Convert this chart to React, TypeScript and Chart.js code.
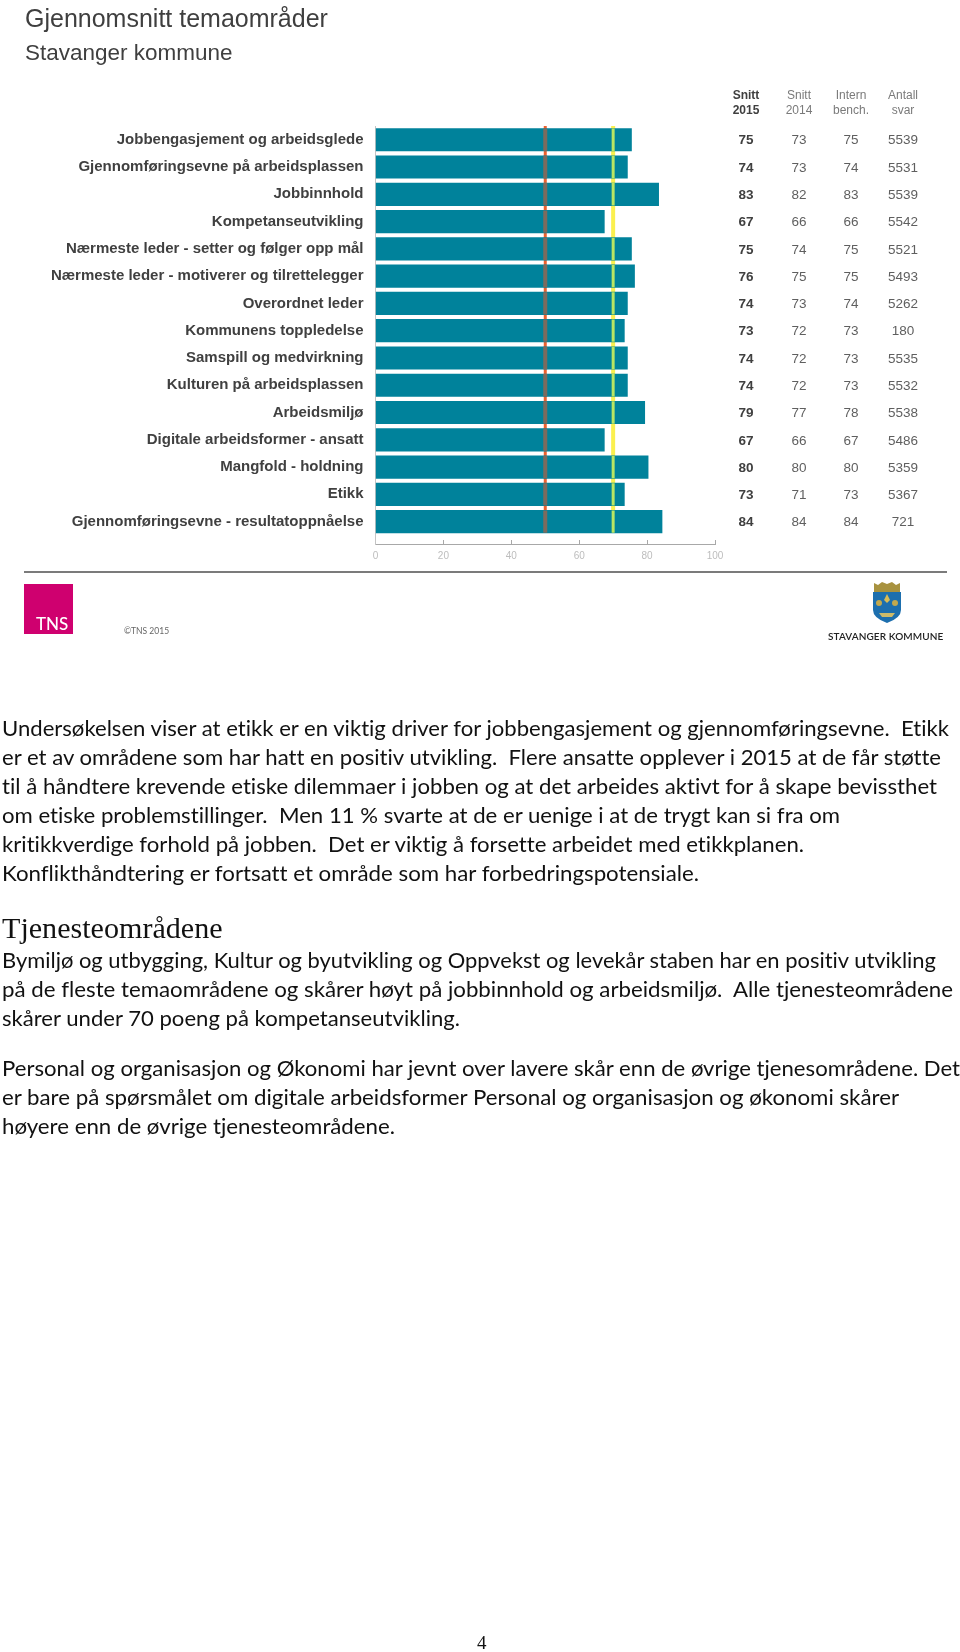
import React, { useEffect, useLayoutEffect, useRef } from "react";
import { Chart, registerables } from "chart.js";

Chart.register(...registerables);

const categories = [
  "Jobbengasjement og arbeidsglede",
  "Gjennomføringsevne på arbeidsplassen",
  "Jobbinnhold",
  "Kompetanseutvikling",
  "Nærmeste leder - setter og følger opp mål",
  "Nærmeste leder - motiverer og tilrettelegger",
  "Overordnet leder",
  "Kommunens toppledelse",
  "Samspill og medvirkning",
  "Kulturen på arbeidsplassen",
  "Arbeidsmiljø",
  "Digitale arbeidsformer - ansatt",
  "Mangfold - holdning",
  "Etikk",
  "Gjennomføringsevne - resultatoppnåelse",
];
const barValues = [75.4, 74.2, 83.4, 67.4, 75.4, 76.3, 74.2, 73.3, 74.2, 74.2, 79.3, 67.4, 80.3, 73.3, 84.4];
const snitt2015 = ["75", "74", "83", "67", "75", "76", "74", "73", "74", "74", "79", "67", "80", "73", "84"];
const snitt2014 = ["73", "73", "82", "66", "74", "75", "73", "72", "72", "72", "77", "66", "80", "71", "84"];
const internBench = ["75", "74", "83", "66", "75", "75", "74", "73", "73", "73", "78", "67", "80", "73", "84"];
const antallSvar = ["5539", "5531", "5539", "5542", "5521", "5493", "5262", "180", "5535", "5532", "5538", "5486", "5359", "5367", "721"];
const columnHeads = [["Snitt", "2015"], ["Snitt", "2014"], ["Intern", "bench."], ["Antall", "svar"]];
const redLine = 50;
const greenLine = 70;
const xTicks = [0, 20, 40, 60, 80, 100];

const paragraphs: { text: string; y: number; right: number }[] = [
  { text: "Undersøkelsen viser at etikk er en viktig driver for jobbengasjement og gjennomføringsevne.  Etikk", y: 728, right: 949 },
  { text: "er et av områdene som har hatt en positiv utvikling.  Flere ansatte opplever i 2015 at de får støtte", y: 757, right: 941 },
  { text: "til å håndtere krevende etiske dilemmaer i jobben og at det arbeides aktivt for å skape bevissthet", y: 786, right: 937 },
  { text: "om etiske problemstillinger.  Men 11 % svarte at de er uenige i at de trygt kan si fra om", y: 815, right: 840 },
  { text: "kritikkverdige forhold på jobben.  Det er viktig å forsette arbeidet med etikkplanen.", y: 844, right: 804 },
  { text: "Konflikthåndtering er fortsatt et område som har forbedringspotensiale.", y: 873, right: 699 },
  { text: "Bymiljø og utbygging, Kultur og byutvikling og Oppvekst og levekår staben har en positiv utvikling", y: 960, right: 936 },
  { text: "på de fleste temaområdene og skårer høyt på jobbinnhold og arbeidsmiljø.  Alle tjenesteområdene", y: 989, right: 953 },
  { text: "skårer under 70 poeng på kompetanseutvikling.", y: 1018, right: 460 },
  { text: "Personal og organisasjon og Økonomi har jevnt over lavere skår enn de øvrige tjenesområdene. Det", y: 1068, right: 960 },
  { text: "er bare på spørsmålet om digitale arbeidsformer Personal og organisasjon og økonomi skårer", y: 1097, right: 899 },
  { text: "høyere enn de øvrige tjenesteområdene.", y: 1126, right: 395 },
];

const SANS = '"Liberation Sans", Arial, sans-serif';
const HALF = 0.41;

const segmentsOver = (ref: number) =>
  barValues.flatMap((v, i) =>
    v > ref ? [{ x: ref, y: i - HALF }, { x: ref, y: i + HALF }, { x: NaN, y: i + 0.5 }] : []
  );

const tablePlugin = {
  id: "sideTable",
  afterDraw(chart: any) {
    const { ctx, scales } = chart;
    const xs = [746, 799, 851, 903];
    const cols = [snitt2015, snitt2014, internBench, antallSvar];
    ctx.save();
    ctx.textAlign = "center";
    ctx.textBaseline = "middle";
    cols.forEach((col, c) => {
      ctx.font = `${c === 0 ? "bold " : ""}13.5px ${SANS}`;
      ctx.fillStyle = c === 0 ? "#404040" : "#5f5f5f";
      col.forEach((t, i) => ctx.fillText(t, xs[c], scales.y.getPixelForValue(i) + 1));
      ctx.font = `${c === 0 ? "bold " : ""}12px ${SANS}`;
      ctx.fillStyle = c === 0 ? "#404040" : "#7a7a7a";
      columnHeads[c].forEach((t, k) => ctx.fillText(t, xs[c], 96 + k * 15));
    });
    ctx.restore();
  },
};

export default function App() {
  const canvasRef = useRef<HTMLCanvasElement>(null);
  const rootRef = useRef<HTMLDivElement>(null);

  useEffect(() => {
    const chart = new Chart(canvasRef.current as HTMLCanvasElement, {
      type: "bar",
      plugins: [tablePlugin],
      data: {
        labels: categories,
        datasets: [
          {
            type: "line",
            label: "50 under",
            data: [{ x: redLine, y: -0.5 }, { x: redLine, y: 14.41 }],
            borderColor: "#ee5f2c",
            borderWidth: 3,
            pointRadius: 0,
            order: 3,
          },
          {
            type: "line",
            label: "70 under",
            data: [{ x: greenLine, y: -0.5 }, { x: greenLine, y: 14.41 }],
            borderColor: "#fbf04e",
            borderWidth: 4,
            pointRadius: 0,
            order: 3,
          },
          {
            type: "bar",
            label: "Snitt 2015",
            data: barValues.map((v, i) => ({ x: v, y: i })),
            backgroundColor: "#00829b",
            barThickness: 22.5,
            order: 2,
          },
          {
            type: "line",
            label: "50 over",
            data: segmentsOver(redLine),
            borderColor: "#7c6b5e",
            borderWidth: 4,
            pointRadius: 0,
            spanGaps: false,
            order: 1,
          },
          {
            type: "line",
            label: "70 over",
            data: segmentsOver(greenLine),
            borderColor: "#b9e663",
            borderWidth: 3,
            pointRadius: 0,
            spanGaps: false,
            order: 1,
          },
        ] as any,
      },
      options: {
        indexAxis: "y",
        animation: false,
        responsive: false,
        devicePixelRatio: 1,
        layout: { padding: { left: 25, right: 245, top: 0, bottom: 1078 } },
        plugins: {
          legend: { display: false },
          tooltip: { enabled: false },
          title: {
            display: true,
            text: "Gjennomsnitt temaområder",
            align: "start",
            color: "#3f3f3f",
            font: { family: SANS, size: 25, weight: "normal", lineHeight: 1.2 },
            padding: { top: 5, bottom: 5.5 },
          },
          subtitle: {
            display: true,
            text: "Stavanger kommune",
            align: "start",
            color: "#3f3f3f",
            font: { family: SANS, size: 22.5, weight: "normal", lineHeight: 1.2 },
            padding: { top: 0, bottom: 58.6 },
          },
        },
        scales: {
          x: {
            type: "linear",
            min: 0,
            max: 100,
            afterBuildTicks: (s: any) => { s.ticks = xTicks.map((value) => ({ value })); },
            afterFit: (s: any) => { s.height = 30; },
            border: { color: "#a8a8a8", width: 1 },
            grid: { drawOnChartArea: false, drawTicks: true, tickLength: -4, color: "#a8a8a8" },
            ticks: { color: "#bdbdbd", font: { family: SANS, size: 10 }, padding: 10, maxRotation: 0 },
          },
          y: {
            type: "linear",
            reverse: true,
            offset: false,
            min: -0.5,
            max: 14.82,
            afterBuildTicks: (s: any) => { s.ticks = categories.map((_, value) => ({ value })); },
            afterFit: (s: any) => { s.width = 350.5; },
            border: { color: "#c4c4c4", width: 1 },
            grid: { drawOnChartArea: false, drawTicks: false },
            ticks: {
              autoSkip: false,
              color: "#404040",
              font: { family: SANS, size: 15, weight: "bold" },
              padding: 12,
              callback: (v: any) => categories[v as number] ?? "",
            },
          },
        },
      } as any,
    });
    return () => chart.destroy();
  }, []);

  // each text line is fitted to the width it has in the reference
  useLayoutEffect(() => {
    const root = rootRef.current as HTMLDivElement;
    root.querySelectorAll<HTMLElement>("[data-right]").forEach((el) => {
      const w = el.getBoundingClientRect().width;
      el.style.transform = `scaleX(${(Number(el.dataset.right) - 2) / w})`;
    });
  }, []);

  const abs: React.CSSProperties = { position: "absolute", whiteSpace: "pre", lineHeight: 1 };

  return (
    <div ref={rootRef} style={{ position: "absolute", left: 0, top: 0, width: 960, height: 1652, background: "#fff", overflow: "hidden" }}>
      <canvas ref={canvasRef} width={960} height={1652} style={{ position: "absolute", left: 0, top: 0, display: "block" }} />

      <div style={{ position: "absolute", left: 24, top: 571, width: 923, height: 2, background: "#7b7b7b" }} />
      <div style={{ position: "absolute", left: 24, top: 584, width: 49, height: 50, background: "#cf006f" }} />
      <div style={{ ...abs, left: 36, top: 613, color: "#fff", font: "500 17px Lato, sans-serif" }}>TNS</div>
      <div style={{ ...abs, left: 124, top: 626, color: "#666", font: "8.5px Lato, sans-serif" }}>©TNS 2015</div>

      <svg style={{ position: "absolute", left: 870, top: 580 }} width="34" height="44" viewBox="0 0 34 44">
        <path d="M4 12 L4 3 L8 5 L12 2 L17 4 L22 2 L26 5 L30 3 L30 12 Z" fill="#a8923f" />
        <path d="M3 12 H31 V30 Q31 38 17 43 Q3 38 3 30 Z" fill="#1d6fae" />
        <path d="M17 14 L20 20 L17 23 L14 20 Z" fill="#d8bb55" />
        <circle cx="9" cy="23" r="3" fill="#c2a94e" />
        <circle cx="25" cy="23" r="3" fill="#c2a94e" />
        <path d="M9 33 H25 L22 37 H12 Z" fill="#cdbb6a" />
      </svg>
      <div style={{ ...abs, left: 828, top: 630, color: "#222", font: "600 10px Lato, sans-serif", letterSpacing: 0.1 }}>STAVANGER KOMMUNE</div>

      {paragraphs.map((p) => (
        <div
          key={p.text}
          data-right={p.right}
          style={{ ...abs, left: 2, top: p.y - 13, transformOrigin: "0 0", color: "#111", font: "21px Lato, sans-serif", lineHeight: "25px", fontVariantLigatures: "none" }}
        >
          {p.text}
        </div>
      ))}
      <div style={{ ...abs, left: 2, top: 911, color: "#111", font: '30.1px "Liberation Serif", serif' }}>Tjenesteområdene</div>
      <div style={{ ...abs, left: 477, top: 1632, color: "#111", font: '19px "Liberation Serif", serif' }}>4</div>
    </div>
  );
}
